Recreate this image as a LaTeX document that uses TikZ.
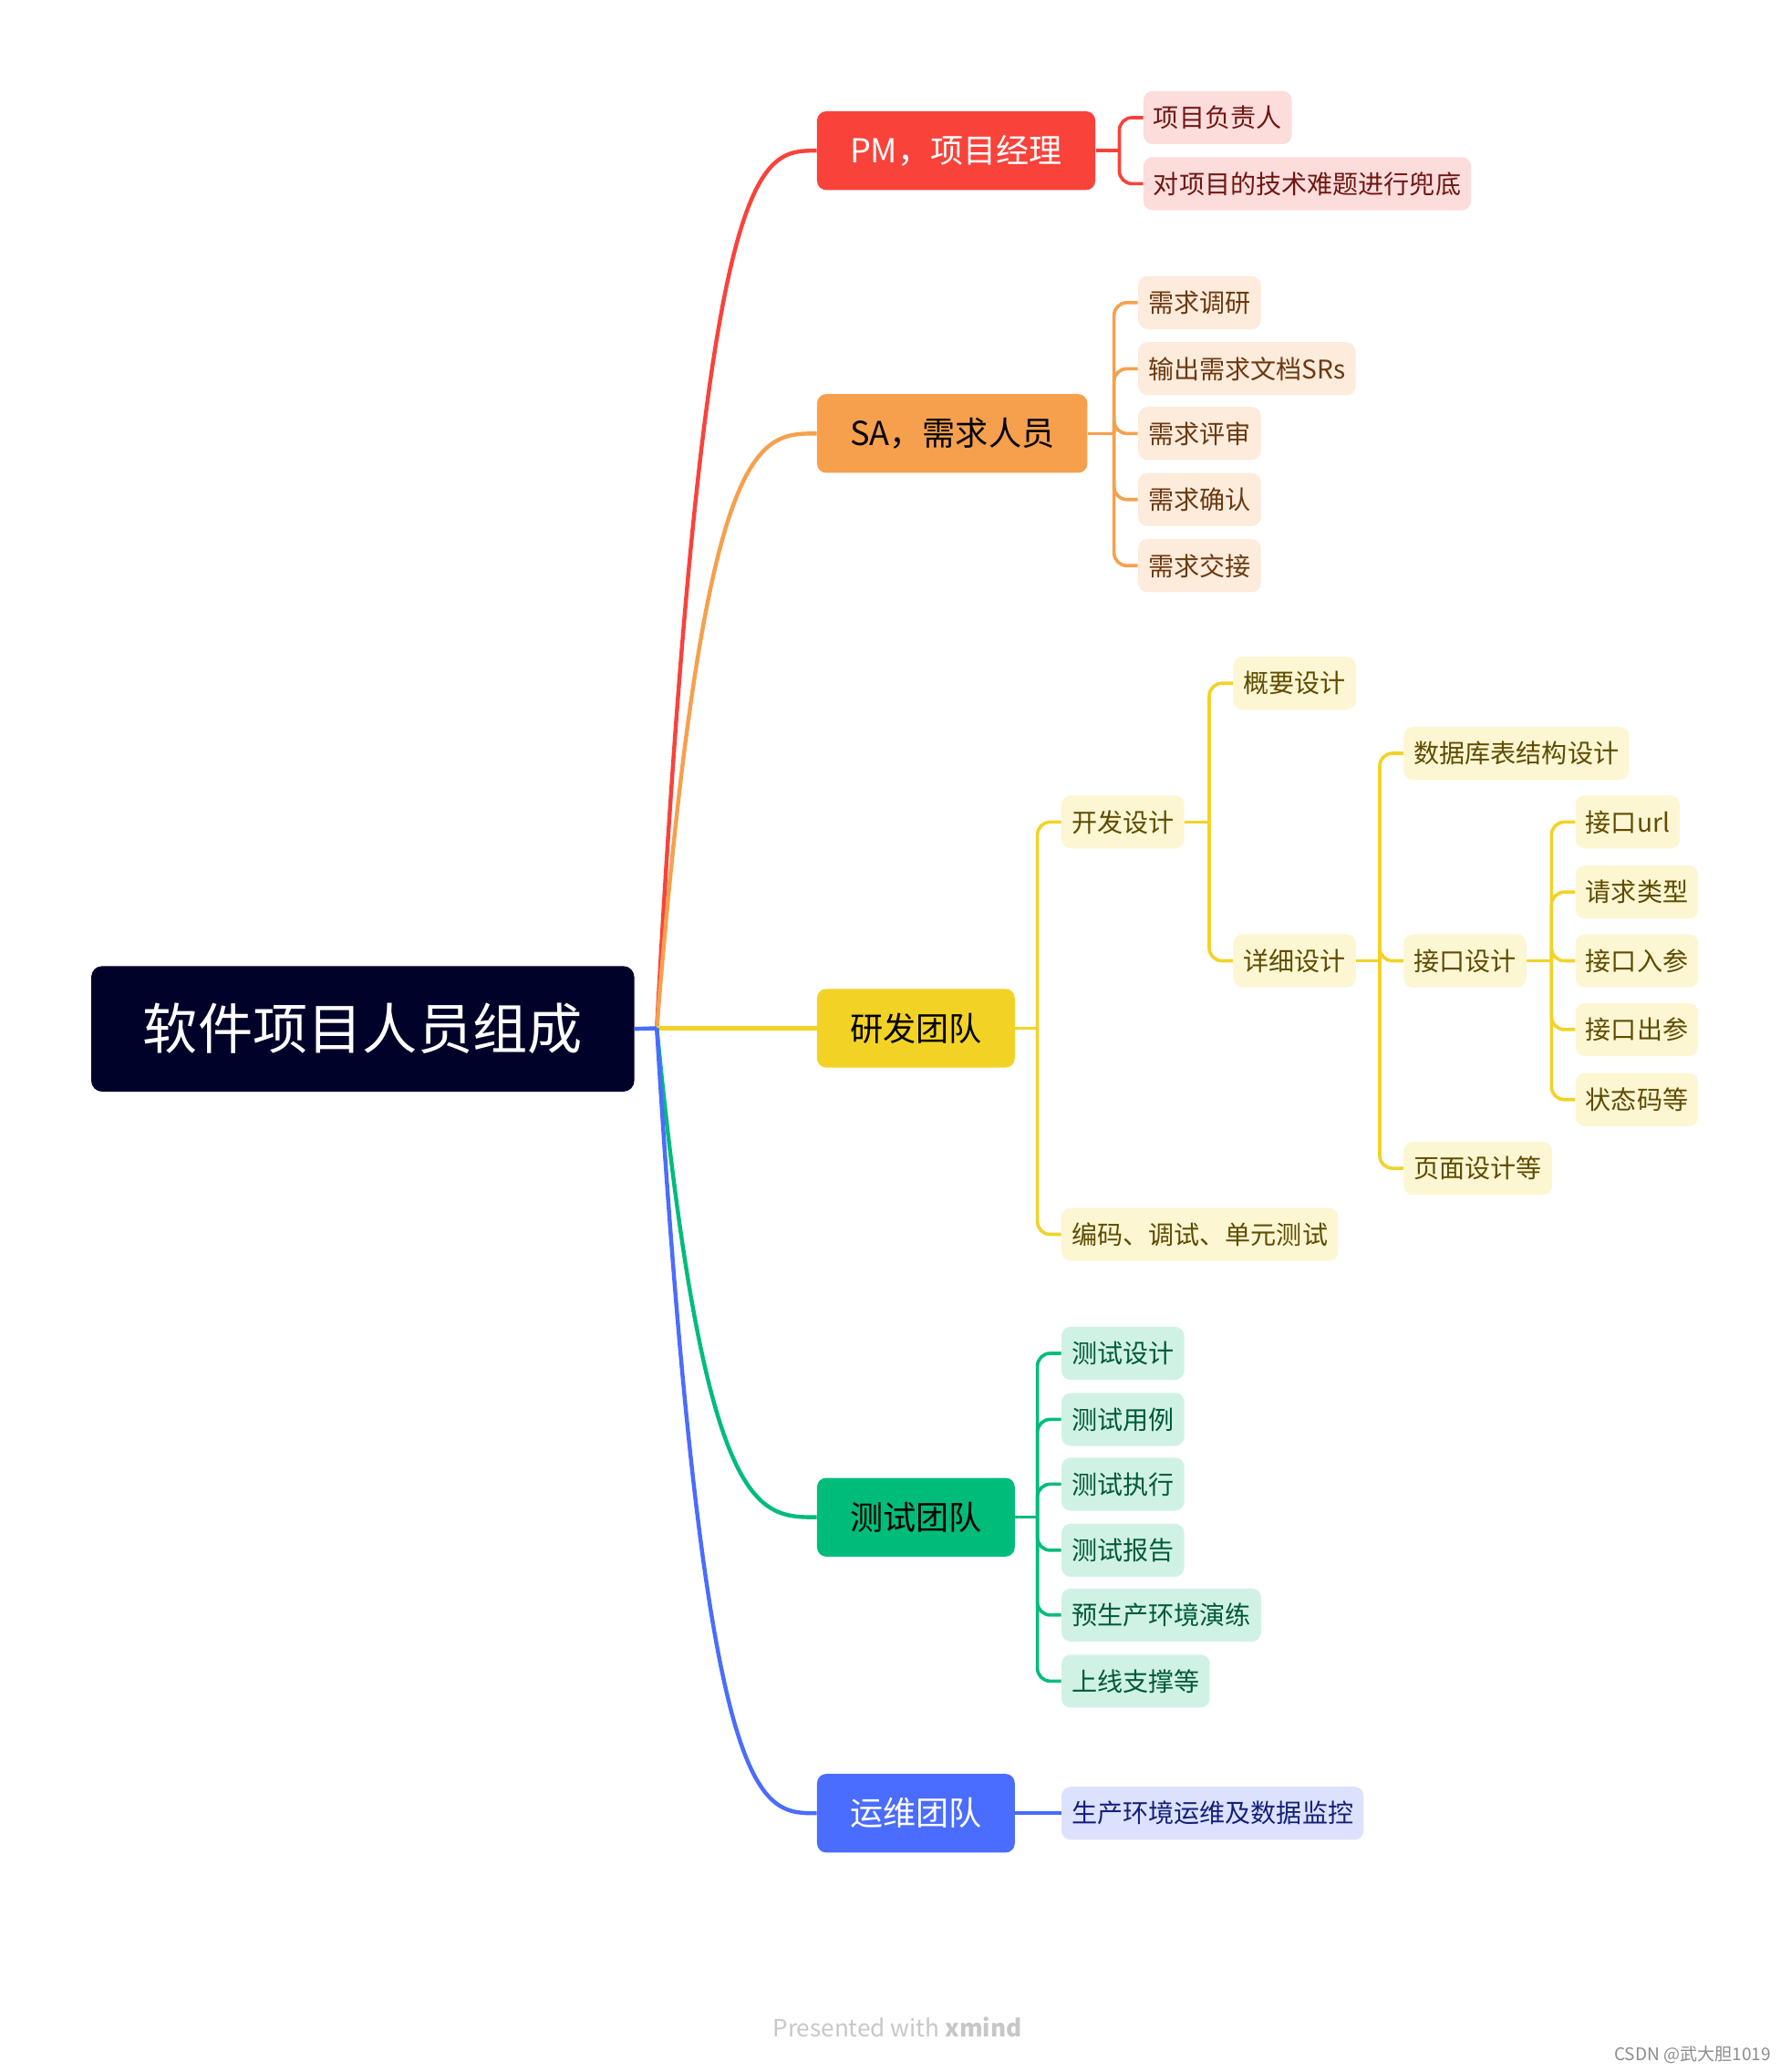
\documentclass[tikz,border=0pt]{standalone}
\usepackage{fontspec}
\setmainfont{Noto Sans CJK SC}
\definecolor{cRoot}{HTML}{000229}
\definecolor{cPM}{HTML}{F9423A}
\definecolor{cPMbg}{HTML}{FDDCDC}
\definecolor{cPMtx}{HTML}{6E1812}
\definecolor{cSA}{HTML}{F6A04D}
\definecolor{cSAbg}{HTML}{FDEBDB}
\definecolor{cSAtx}{HTML}{6B3A12}
\definecolor{cRD}{HTML}{F2D325}
\definecolor{cRDbg}{HTML}{FDF6D3}
\definecolor{cRDtx}{HTML}{5E4C00}
\definecolor{cQA}{HTML}{00BC7B}
\definecolor{cQAbg}{HTML}{D0F2E5}
\definecolor{cQAtx}{HTML}{00593A}
\definecolor{cOP}{HTML}{4A6CFF}
\definecolor{cOPbg}{HTML}{DCE2FD}
\definecolor{cOPtx}{HTML}{14207A}
\tikzset{
  rootbox/.style={fill=cRoot, text=white, rounded corners=6pt, minimum width=296.7pt,
    minimum height=68.6pt, font=\fontsize{30pt}{34pt}\selectfont},
  branch/.style={rounded corners=5pt, minimum height=43pt, inner xsep=18pt, inner ysep=0pt,
    anchor=west, font=\fontsize{18pt}{20pt}\selectfont},
  leaf/.style={rounded corners=5pt, minimum height=29pt, inner xsep=5.5pt, inner ysep=0pt,
    anchor=west, font=\fontsize{14pt}{16pt}\selectfont},
  pmleaf/.style={leaf, fill=cPMbg, text=cPMtx},
  saleaf/.style={leaf, fill=cSAbg, text=cSAtx},
  rdleaf/.style={leaf, fill=cRDbg, text=cRDtx},
  qaleaf/.style={leaf, fill=cQAbg, text=cQAtx},
  opleaf/.style={leaf, fill=cOPbg, text=cOPtx},
  curve/.style={line width=2.2pt},
  link/.style={line width=1.8pt, rounded corners=7pt},
}
\begin{document}
\begin{tikzpicture}[x=0.722pt,y=-0.722pt]
  \useasboundingbox (0,0) rectangle (1355.2,1567.8);
  % centre and main branches
  \node[rootbox] (root) at (274.5,778.5) {软件项目人员组成};
  \coordinate (hub) at (497,778);
  \node[branch, fill=cPM, text=white] (pm) at (618,114) {PM，项目经理};
  \node[branch, fill=cSA, text=black] (sa) at (618,328) {SA，需求人员};
  \node[branch, fill=cRD, text=black] (rd) at (618,778) {研发团队};
  \node[branch, fill=cQA, text=black] (qa) at (618,1148) {测试团队};
  \node[branch, fill=cOP, text=white] (op) at (618,1372) {运维团队};
  \draw[curve, cPM] (hub) .. controls +(36,-664) and +(-45,0) .. (pm.west);
  \draw[curve, cSA] (hub) .. controls +(36,-450) and +(-45,0) .. (sa.west);
  \draw[curve, cRD] (hub) -- (rd.west);
  \draw[curve, cQA] (hub) .. controls +(36,370) and +(-45,0) .. (qa.west);
  \draw[curve, cOP] (hub) .. controls +(36,594) and +(-45,0) .. (op.west);
  \draw[curve, cOP] (root.east) -- (hub);
  % PM
  \coordinate (pmfork) at (847,114);
  \draw[link, cPM] (pm.east) -- (pmfork);
  \foreach \i/\y/\txt in {1/89/项目负责人, 2/139/对项目的技术难题进行兜底}
    {\node[pmleaf] (pm\i) at (865,\y) {\txt};
     \draw[link, cPM] (pmfork) |- (pm\i.west);}
  % SA
  \coordinate (safork) at (843,328);
  \draw[link, cSA] (sa.east) -- (safork);
  \foreach \i/\y/\txt in {1/229/需求调研, 2/279/输出需求文档SRs, 3/328/需求评审, 4/378/需求确认, 5/428/需求交接}
    {\node[saleaf] (sa\i) at (861,\y) {\txt};
     \draw[link, cSA] (safork) |- (sa\i.west);}
  % RD
  \coordinate (rdfork) at (785,778);
  \draw[link, cRD] (rd.east) -- (rdfork);
  \node[rdleaf] (rd1) at (803,622) {开发设计};
  \node[rdleaf] (rd2) at (803,934) {编码、调试、单元测试};
  \foreach \n in {rd1,rd2}
    \draw[link, cRD] (rdfork) |- (\n.west);
  \coordinate (rd1fork) at (915,622);
  \draw[link, cRD] (rd1.east) -- (rd1fork);
  \node[rdleaf] (rd11) at (933,517) {概要设计};
  \node[rdleaf] (rd12) at (933,727) {详细设计};
  \foreach \n in {rd11,rd12}
    \draw[link, cRD] (rd1fork) |- (\n.west);
  \coordinate (rd12fork) at (1044,727);
  \draw[link, cRD] (rd12.east) -- (rd12fork);
  \node[rdleaf] (rd121) at (1062,570) {数据库表结构设计};
  \node[rdleaf] (rd122) at (1062,727) {接口设计};
  \node[rdleaf] (rd123) at (1062,884) {页面设计等};
  \foreach \n in {rd121,rd122,rd123}
    \draw[link, cRD] (rd12fork) |- (\n.west);
  \coordinate (apifork) at (1174,727);
  \draw[link, cRD] (rd122.east) -- (apifork);
  \foreach \i/\y/\txt in {1/622/接口url, 2/675/请求类型, 3/727/接口入参, 4/779/接口出参, 5/832/状态码等}
    {\node[rdleaf] (api\i) at (1192,\y) {\txt};
     \draw[link, cRD] (apifork) |- (api\i.west);}
  % QA
  \coordinate (qafork) at (785,1148);
  \draw[link, cQA] (qa.east) -- (qafork);
  \foreach \i/\y/\txt in {1/1024/测试设计, 2/1074/测试用例, 3/1123/测试执行, 4/1173/测试报告, 5/1222/预生产环境演练, 6/1272/上线支撑等}
    {\node[qaleaf] (qa\i) at (803,\y) {\txt};
     \draw[link, cQA] (qafork) |- (qa\i.west);}
  % OPS
  \node[opleaf] (op1) at (803,1372) {生产环境运维及数据监控};
  \draw[link, cOP] (op.east) -- (op1.west);
  % footer
  \node[text=black!22, font=\fontsize{13pt}{15pt}\selectfont] (credit) at (679,1534) {Presented with \textbf{xmind}};
  \node[anchor=east, text=black!45, font=\fontsize{9.5pt}{11pt}\selectfont] (mark) at (1345,1555) {CSDN @武大胆1019};
\end{tikzpicture}
\end{document}
